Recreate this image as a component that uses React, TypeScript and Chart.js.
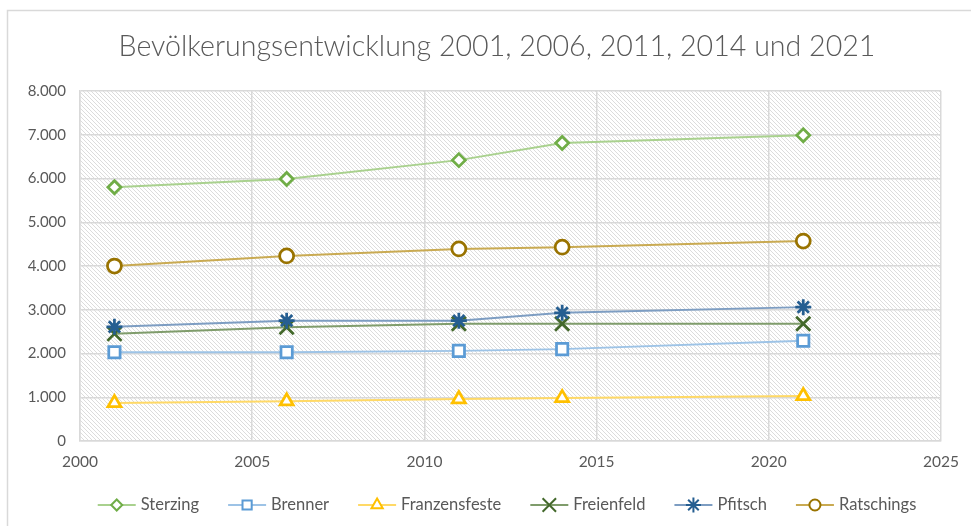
import React, { useEffect, useRef } from "react";
import { Chart, registerables } from "chart.js";
import { drawPoint } from "chart.js/helpers";

Chart.register(...registerables);

const years = [2001, 2006, 2011, 2014, 2021];
const seriesNames = ["Sterzing", "Brenner", "Franzensfeste", "Freienfeld", "Pfitsch", "Ratschings"];
const sterzing = [5800, 5990, 6420, 6810, 6990];
const brenner = [2030, 2030, 2060, 2100, 2290];
const franzensfeste = [870, 910, 960, 985, 1030];
const freienfeld = [2450, 2600, 2680, 2680, 2680];
const pfitsch = [2610, 2750, 2750, 2930, 3060];
const ratschings = [4000, 4230, 4390, 4430, 4570];
const xTicks = [2000, 2005, 2010, 2015, 2020, 2025];
const yTicks = [0, 1000, 2000, 3000, 4000, 5000, 6000, 7000, 8000];
const titleText = "Bevölkerungsentwicklung 2001, 2006, 2011, 2014 und 2021";

const FONT = "Lato";
const TEXT = "#595959";

const styles = [
  { line: "#a9d18e", mark: "#70ad47", shape: "rectRot", r: 6.5, lr: 5.5 },
  { line: "#9dc3e6", mark: "#5b9bd5", shape: "rect", r: 8, lr: 6.5 },
  { line: "#ffd966", mark: "#ffc000", shape: "triangle", r: 7.5, lr: 6.5 },
  { line: "#7f9c6b", mark: "#43682b", shape: "crossRot", r: 10, lr: 9.5 },
  { line: "#7d9dc2", mark: "#255e91", shape: "star", r: 8, lr: 7.5 },
  { line: "#c9aa52", mark: "#997300", shape: "circle", r: 7, lr: 5.5 },
];

const fmtDE = (v: number) => String(Math.round(v)).replace(/\B(?=(\d{3})+(?!\d))/g, ".");

function makePattern(ctx: CanvasRenderingContext2D) {
  const c = document.createElement("canvas");
  c.width = 4;
  c.height = 4;
  const g = c.getContext("2d")!;
  const img = g.createImageData(4, 4);
  for (let i = 0; i < 16; i++) {
    img.data[i * 4] = 255;
    img.data[i * 4 + 1] = 255;
    img.data[i * 4 + 2] = 255;
    img.data[i * 4 + 3] = 255;
  }
  for (let k = 0; k < 4; k++) {
    const idx = (k * 4 + k) * 4;
    img.data[idx] = 220;
    img.data[idx + 1] = 220;
    img.data[idx + 2] = 220;
  }
  g.putImageData(img, 0, 0);
  return ctx.createPattern(c, "repeat")!;
}

const bgPlugin = {
  id: "bgPattern",
  beforeDraw(chart: any) {
    const { ctx, chartArea: a } = chart;
    ctx.save();
    ctx.fillStyle = "#ffffff";
    ctx.fillRect(0, 0, chart.width, chart.height);
    ctx.strokeStyle = "#d9d9d9";
    ctx.lineWidth = 1.5;
    ctx.beginPath();
    ctx.moveTo(7.5, chart.height + 2);
    ctx.lineTo(7.5, 10.5);
    ctx.lineTo(chart.width + 2, 10.5);
    ctx.stroke();
    ctx.fillStyle = makePattern(ctx);
    ctx.fillRect(a.left, a.top, a.right - a.left, a.bottom - a.top);
    ctx.restore();
  },
};

const titlePlugin = {
  id: "excelTitle",
  afterDraw(chart: any) {
    const { ctx } = chart;
    ctx.save();
    ctx.font = `300 28.6px ${FONT}`;
    ctx.fillStyle = TEXT;
    ctx.textAlign = "center";
    ctx.textBaseline = "middle";
    ctx.fillText(titleText, 497, 47);
    ctx.restore();
  },
};

const legendPlugin = {
  id: "excelLegend",
  afterDraw(chart: any) {
    const { ctx } = chart;
    const ds = chart.data.datasets;
    ctx.save();
    ctx.font = `16.5px ${FONT}`;
    const lineLen = 38;
    const gapText = 5;
    const gapItem = 29;
    const widths = ds.map((d: any) => lineLen + gapText + ctx.measureText(d.label).width);
    const total = widths.reduce((s: number, w: number) => s + w, 0) + gapItem * (ds.length - 1);
    let x = 507 - total / 2;
    const y = 505;
    ds.forEach((d: any, i: number) => {
      ctx.strokeStyle = d.borderColor;
      ctx.lineWidth = 2;
      ctx.beginPath();
      ctx.moveTo(x, y);
      ctx.lineTo(x + lineLen, y);
      ctx.stroke();
      ctx.strokeStyle = d.pointBorderColor;
      ctx.fillStyle = "#ffffff";
      drawPoint(ctx, { pointStyle: d.pointStyle, radius: styles[i].lr, rotation: 0, borderWidth: 2.5 }, x + lineLen / 2, y);
      ctx.fillStyle = TEXT;
      ctx.textBaseline = "middle";
      ctx.textAlign = "left";
      ctx.fillText(d.label, x + lineLen + gapText, y);
      x += widths[i] + gapItem;
    });
    ctx.restore();
  },
};

export default function App() {
  const ref = useRef<HTMLCanvasElement>(null);
  useEffect(() => {
    const values = [sterzing, brenner, franzensfeste, freienfeld, pfitsch, ratschings];
    const datasets = seriesNames.map((name, i) => ({
      label: name,
      data: years.map((yr, j) => ({ x: yr, y: values[i][j] })),
      borderColor: styles[i].line,
      borderWidth: 2,
      pointStyle: styles[i].shape,
      pointRadius: styles[i].r,
      pointBorderColor: styles[i].mark,
      pointBackgroundColor: "#ffffff",
      pointBorderWidth: 2.75,
      tension: 0,
      order: seriesNames.length - i,
    }));
    const chart = new Chart(ref.current!, {
      type: "line",
      data: { datasets },
      plugins: [bgPlugin, titlePlugin, legendPlugin],
      options: {
        animation: false,
        responsive: false,
        layout: { padding: { left: 0, right: 26, top: 91, bottom: 40 } },
        plugins: {
          legend: { display: false },
          tooltip: { enabled: false },
          title: { display: false },
        },
        scales: {
          x: {
            type: "linear",
            min: 2000,
            max: 2025,
            afterBuildTicks: (s: any) => { s.ticks = xTicks.map((v) => ({ value: v })); },
            afterFit: (s: any) => { s.height = 45; },
            ticks: { color: TEXT, font: { family: FONT, size: 15.5 }, padding: 12, callback: (v: any) => String(v), maxRotation: 0 },
            grid: { color: "#d9d9d9", lineWidth: 1.5, drawTicks: false },
            border: { color: "#d9d9d9", width: 1.5 },
          },
          y: {
            min: 0,
            max: 8000,
            afterBuildTicks: (s: any) => { s.ticks = yTicks.map((v) => ({ value: v })); },
            afterFit: (s: any) => { s.width = 80; },
            ticks: { color: TEXT, font: { family: FONT, size: 15 }, padding: 14, callback: (v: any) => fmtDE(Number(v)) },
            grid: { color: "#d9d9d9", lineWidth: 1.5, drawTicks: false },
            border: { color: "#d9d9d9", width: 1.5 },
          },
        },
      },
    });
    return () => chart.destroy();
  }, []);
  return (
    <div style={{ position: "fixed", left: 0, top: 0, width: 971, height: 526, background: "#fff" }}>
      <canvas ref={ref} width={971} height={526} style={{ display: "block", width: 971, height: 526 }} />
    </div>
  );
}
